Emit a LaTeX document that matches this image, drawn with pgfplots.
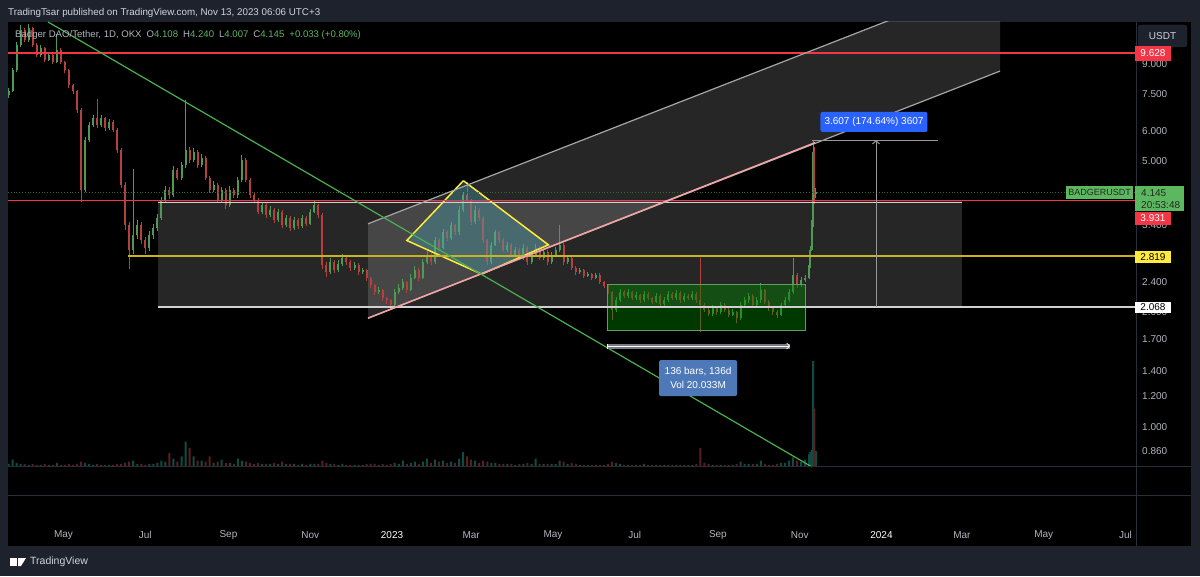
\documentclass[border=0pt]{standalone}
\usepackage{pgfplots}
\pgfplotsset{compat=1.18}
\usepackage{pgfplotstable}
\usepackage{fontspec}
\setmainfont{Liberation Sans}
\usetikzlibrary{arrows.meta}
\definecolor{frame}{HTML}{1E222D}
\definecolor{sep}{HTML}{2A2E39}
\definecolor{tvgray}{HTML}{B2B5BE}
\definecolor{tvtext}{HTML}{D1D4DC}
\definecolor{cgreen}{HTML}{4E9A52}
\definecolor{cred}{HTML}{B5413F}
\definecolor{vgreen}{HTML}{0E4D45}
\definecolor{vred}{HTML}{5A1F1F}
\definecolor{redline}{HTML}{F23645}
\definecolor{ylab}{HTML}{FFEB3B}
\definecolor{wline}{HTML}{D0D0D0}
\definecolor{pinkl}{HTML}{F5A3A3}
\definecolor{trend}{HTML}{4CAF50}
\definecolor{labgreen}{HTML}{5CB85F}
\definecolor{blueA}{HTML}{2962FF}
\definecolor{blueB}{HTML}{4E79B8}
\definecolor{valgreen}{HTML}{5FB563}
\definecolor{rangegray}{HTML}{787B86}
\definecolor{diamfill}{HTML}{4FB3C4}

\pgfplotstableread{
d o h l c v
-286 7.46 7.80 7.35 7.64 3
-283 7.64 8.80 7.60 8.68 7
-280 8.68 10.30 8.60 10.10 4
-277 10.10 11.40 10.00 11.07 3
-274 11.07 11.20 10.30 10.42 3
-271 10.42 11.50 10.30 11.20 2
-268 11.20 11.30 10.00 10.10 3
-265 10.10 10.20 9.40 9.51 2
-262 9.51 10.10 9.40 9.92 2
-259 9.92 10.00 9.10 9.23 3
-256 9.23 9.65 9.15 9.51 2
-253 9.51 9.60 9.00 9.12 2
-250 9.12 10.80 9.05 9.80 4
-247 9.80 9.90 9.00 9.12 2
-244 9.12 9.20 8.55 8.68 2
-241 8.68 8.75 7.80 7.93 3
-238 7.93 8.00 7.50 7.64 2
-235 7.64 7.70 6.70 6.81 3
-232 6.81 6.90 3.90 4.20 5
-229 4.20 5.80 4.15 5.68 4
-226 5.68 6.35 5.60 6.22 3
-223 6.22 6.60 6.15 6.49 2
-220 6.49 7.28 6.10 6.22 3
-217 6.22 6.60 6.15 6.49 2
-214 6.49 6.55 6.00 6.11 2
-211 6.11 6.45 6.05 6.33 2
-208 6.33 6.40 5.95 6.04 2
-205 6.04 6.10 5.25 5.35 3
-202 5.35 5.40 4.25 4.33 3
-199 4.33 4.40 3.30 3.39 4
-196 3.39 3.45 2.60 2.92 5
-193 2.92 4.77 2.85 3.19 6
-190 3.19 3.50 3.12 3.39 3
-187 3.39 3.45 3.02 3.10 3
-184 3.10 3.15 2.85 2.96 2
-181 2.96 3.28 2.90 3.19 3
-178 3.19 3.42 3.12 3.33 3
-175 3.33 3.62 3.28 3.54 4
-172 3.54 4.02 3.50 3.95 6
-169 3.95 4.30 3.90 4.20 5
-166 4.20 4.28 3.98 4.07 13
-163 4.07 4.85 4.02 4.74 8
-160 4.74 4.80 4.45 4.52 5
-157 4.52 4.98 4.45 4.88 10
-154 4.88 7.24 4.80 5.35 24
-151 5.35 5.45 4.95 5.03 18
-148 5.03 5.40 4.98 5.29 10
-145 5.29 5.35 4.80 4.88 6
-142 4.88 5.22 4.82 5.10 6
-139 5.10 5.15 4.45 4.52 5
-136 4.52 4.58 4.12 4.20 10
-133 4.20 4.42 4.15 4.33 4
-130 4.33 4.38 3.88 3.95 5
-127 3.95 4.28 3.90 4.20 7
-124 4.20 4.25 3.75 3.83 4
-121 3.83 4.30 3.78 4.20 4
-118 4.20 4.25 4.00 4.07 3
-115 4.07 4.55 4.00 4.46 8
-112 4.46 5.19 4.40 5.03 6
-109 5.03 5.10 4.40 4.46 5
-106 4.46 4.52 4.00 4.07 4
-103 4.07 4.12 3.88 3.95 3
-100 3.95 4.00 3.62 3.68 4
-97 3.68 3.90 3.62 3.83 3
-94 3.83 3.88 3.55 3.61 3
-91 3.61 3.80 3.56 3.72 3
-88 3.72 3.76 3.44 3.50 4
-85 3.50 3.75 3.45 3.68 3
-82 3.68 3.72 3.33 3.39 5
-79 3.39 3.60 3.35 3.54 3
-76 3.54 3.58 3.28 3.33 3
-73 3.33 3.56 3.30 3.50 3
-70 3.50 3.54 3.32 3.37 2
-67 3.37 3.60 3.34 3.54 3
-64 3.54 3.58 3.37 3.42 2
-61 3.42 3.75 3.40 3.68 3
-58 3.68 3.95 3.65 3.83 3
-55 3.83 3.86 3.55 3.61 3
-52 3.61 3.65 2.60 2.66 6
-49 2.66 2.72 2.48 2.55 4
-46 2.55 2.78 2.52 2.71 3
-43 2.71 2.74 2.53 2.58 3
-40 2.58 2.75 2.55 2.68 2
-37 2.68 2.84 2.65 2.78 3
-34 2.78 2.80 2.66 2.71 2
-31 2.71 2.74 2.57 2.61 2
-28 2.61 2.71 2.58 2.66 2
-25 2.66 2.69 2.51 2.55 2
-22 2.55 2.62 2.52 2.58 2
-19 2.58 2.60 2.42 2.46 3
-16 2.46 2.48 2.32 2.36 3
-13 2.36 2.38 2.22 2.26 3
-10 2.26 2.33 2.23 2.29 2
-7 2.29 2.31 2.14 2.18 3
-4 2.18 2.20 2.10 2.15 2
-1 2.15 2.17 2.03 2.09 3
2 2.09 2.31 2.06 2.26 4
5 2.26 2.38 2.23 2.32 3
8 2.32 2.45 2.29 2.40 6
11 2.40 2.42 2.25 2.29 3
14 2.29 2.52 2.27 2.46 4
17 2.46 2.64 2.44 2.58 5
20 2.58 2.61 2.42 2.46 3
23 2.46 2.76 2.44 2.71 5
26 2.71 2.90 2.68 2.83 8
29 2.83 2.86 2.66 2.71 4
32 2.71 3.16 2.68 3.10 7
35 3.10 3.13 2.91 2.96 5
38 2.96 3.31 2.93 3.25 6
41 3.25 3.30 3.08 3.14 4
44 3.14 3.46 3.10 3.39 5
47 3.39 3.42 3.20 3.25 4
50 3.25 3.80 3.20 3.72 8
53 3.72 4.15 3.68 4.07 14
56 4.07 4.40 3.88 3.95 10
59 3.95 3.98 3.40 3.46 7
62 3.46 3.80 3.42 3.72 6
65 3.72 3.76 3.48 3.54 4
68 3.54 3.58 3.04 3.10 6
71 3.10 3.12 2.66 2.71 5
74 2.71 3.06 2.68 3.01 4
77 3.01 3.30 2.98 3.25 4
80 3.25 3.28 3.05 3.10 3
83 3.10 3.14 2.88 2.92 3
86 2.92 3.06 2.89 3.01 3
89 3.01 3.04 2.79 2.83 3
92 2.83 2.97 2.80 2.92 2
95 2.92 2.95 2.74 2.78 3
98 2.78 3.02 2.75 2.96 3
101 2.96 2.99 2.67 2.71 4
104 2.71 2.88 2.68 2.83 3
107 2.83 3.02 2.80 2.96 8
110 2.96 2.99 2.74 2.78 3
113 2.78 2.94 2.75 2.89 3
116 2.89 2.92 2.67 2.71 3
119 2.71 2.88 2.68 2.83 3
122 2.83 2.97 2.80 2.92 3
125 2.92 3.39 2.89 3.01 6
128 3.01 3.04 2.67 2.71 5
131 2.71 2.82 2.68 2.78 3
134 2.78 2.80 2.58 2.61 4
137 2.61 2.64 2.51 2.55 3
140 2.55 2.62 2.52 2.58 2
143 2.58 2.60 2.46 2.49 2
146 2.49 2.56 2.47 2.52 2
149 2.52 2.54 2.43 2.46 2
152 2.46 2.54 2.44 2.51 2
155 2.51 2.53 2.37 2.40 2
158 2.40 2.42 2.32 2.35 2
161 2.35 2.37 2.23 2.26 3
164 2.26 2.28 1.91 2.03 5
167 2.03 2.19 2.00 2.15 4
170 2.15 2.30 2.13 2.26 3
173 2.26 2.29 2.18 2.21 2
176 2.21 2.30 2.18 2.26 2
179 2.26 2.28 2.15 2.18 2
182 2.18 2.26 2.16 2.22 2
185 2.22 2.24 2.12 2.15 2
188 2.15 2.28 2.13 2.24 3
191 2.24 2.26 2.15 2.18 2
194 2.18 2.20 2.10 2.13 2
197 2.13 2.25 2.11 2.21 2
200 2.21 2.23 2.07 2.10 2
203 2.10 2.19 2.08 2.15 2
206 2.15 2.28 2.13 2.24 2
209 2.24 2.26 2.15 2.18 2
212 2.18 2.29 2.16 2.25 2
215 2.25 2.27 2.12 2.15 2
218 2.15 2.25 2.13 2.21 2
221 2.21 2.24 2.15 2.18 2
224 2.18 2.28 2.16 2.24 2
227 2.24 2.26 2.12 2.15 3
230 2.15 2.78 1.77 2.09 18
233 2.09 2.12 2.00 2.03 4
236 2.03 2.06 1.95 1.98 3
239 1.98 2.09 1.96 2.05 2
242 2.05 2.07 1.97 2.00 2
245 2.00 2.13 1.98 2.09 2
248 2.09 2.11 2.00 2.03 2
251 2.03 2.05 1.94 1.97 2
254 1.97 2.04 1.95 2.00 2
257 2.00 2.02 1.88 1.93 3
260 1.93 2.13 1.91 2.09 5
263 2.09 2.19 2.06 2.15 3
266 2.15 2.25 2.12 2.21 3
269 2.21 2.23 2.06 2.09 3
272 2.09 2.19 2.06 2.15 3
275 2.15 2.39 2.12 2.29 6
278 2.29 2.31 2.10 2.13 3
281 2.13 2.15 2.02 2.05 2
284 2.05 2.08 1.97 2.00 2
287 2.00 2.03 1.93 1.97 3
290 1.97 2.12 1.95 2.09 4
293 2.09 2.19 2.06 2.15 4
296 2.15 2.30 2.13 2.26 6
299 2.26 2.78 2.24 2.51 9
302 2.51 2.54 2.32 2.36 6
305 2.36 2.47 2.33 2.43 5
308 2.43 2.50 2.40 2.46 7
311 2.46 2.72 2.44 2.66 12
312 2.66 2.98 2.62 2.92 14
313 2.92 3.50 2.90 3.39 16
314 3.39 5.675 3.35 5.30 100
315 5.30 5.45 3.85 4.108 55
316 4.108 4.240 4.007 4.145 15
}\candles

\pgfplotsset{
  upc/.style={restrict expr to domain={\thisrow{c}-\thisrow{o}}{0:100}},
  dnc/.style={restrict expr to domain={\thisrow{c}-\thisrow{o}}{-100:-0.00001}},
  frame/.style={at={(8pt,109pt)}, anchor=south west, width=1128pt, height=445pt,
    scale only axis, xmin=-286.4, xmax=554.8},
}

\begin{document}
\begin{tikzpicture}[x=1pt,y=1pt]
\path[use as bounding box] (0,0) rectangle (1200,576);
\fill[frame] (0,0) rectangle (1200,576);
\fill[black] (8,30) rectangle (1191,554);

% volume
\begin{axis}[frame, hide axis, ymin=0, ymax=420]
\addplot[ybar, bar width=2pt, bar shift=0pt, fill=vgreen, draw=none, upc] table[x=d,y=v]{\candles};
\addplot[ybar, bar width=2pt, bar shift=0pt, fill=vred, draw=none, dnc] table[x=d,y=v]{\candles};
\end{axis}

% price
\begin{axis}[frame, ymode=log, ymin=0.783, ymax=11.62,
  axis line style={draw=none}, major tick length=0pt, minor tick num=0,
  /pgf/number format/assume math mode=true,
  ytick={0.86,1,1.2,1.4,1.7,2,2.4,3.4,5,6,7.5,9},
  yticklabels={0.860,1.000,1.200,1.400,1.700,2.000,2.400,3.400,5.000,6.000,7.500,9.000},
  yticklabel pos=right,
  yticklabel style={anchor=west, inner sep=0pt, xshift=6pt, font=\fontsize{10}{12}\selectfont, text=tvgray},
  xtick={-245,-184,-122,-61,0,59,120,181,243,304,365,425,486,547},
  xticklabels={May,Jul,Sep,Nov,{\color{white}2023},Mar,May,Jul,Sep,Nov,{\color{white}2024},Mar,May,Jul},
  xticklabel style={anchor=center, inner sep=0pt, yshift=-68pt, font=\fontsize{10}{12}\selectfont, text=tvgray},
  clip=true]
% background drawings
\addplot[fill=white, fill opacity=0.15, draw=none] coordinates {(-174.5,2.068)(425.1,2.068)(425.1,3.931)(-174.5,3.931)};
\addplot[fill=white, fill opacity=0.15, draw=none] coordinates {(-17.9,3.42)(453.4,15.26)(453.4,8.63)(-17.9,1.93)};
% wicks
\addplot[draw=none, mark=none, upc, error bars/.cd, y dir=both, y explicit, error mark=none,
  error bar style={draw=cgreen, line width=0.8pt}]
  table[x=d, y=c, y error plus expr=\thisrow{h}-\thisrow{c}, y error minus expr=\thisrow{c}-\thisrow{l}]{\candles};
\addplot[draw=none, mark=none, dnc, error bars/.cd, y dir=both, y explicit, error mark=none,
  error bar style={draw=cred, line width=0.8pt}]
  table[x=d, y=c, y error plus expr=\thisrow{h}-\thisrow{c}, y error minus expr=\thisrow{c}-\thisrow{l}]{\candles};
% bodies
\addplot[draw=none, mark=none, upc, error bars/.cd, y dir=minus, y explicit, error mark=none,
  error bar style={draw=cgreen, line width=2pt}]
  table[x=d, y=c, y error minus expr=\thisrow{c}-\thisrow{o}]{\candles};
\addplot[draw=none, mark=none, dnc, error bars/.cd, y dir=plus, y explicit, error mark=none,
  error bar style={draw=cred, line width=2pt}]
  table[x=d, y=c, y error plus expr=\thisrow{o}-\thisrow{c}]{\candles};
% overlay shapes
\addplot[fill=green!50!black, fill opacity=0.45, draw=gray!75!green, line width=1pt] coordinates {(160.6,1.79)(308.5,1.79)(308.5,2.36)(160.6,2.36)(160.6,1.79)};
\addplot[fill=diamfill, fill opacity=0.32, draw=ylab, line width=1.5pt] coordinates {(53.2,4.44)(116.6,3.01)(66.9,2.52)(11.0,3.09)(53.2,4.44)};
% horizontal levels
\addplot[draw=redline, line width=1.3pt] coordinates {(-286.4,9.628)(554.8,9.628)};
\addplot[draw=trend!60!black, dotted, line width=0.8pt] coordinates {(-286.4,4.145)(554.8,4.145)};
\addplot[draw=wline, line width=1.5pt] coordinates {(-174.5,3.89)(425.1,3.89)};
\addplot[draw=redline, line width=1.6pt] coordinates {(-286.4,3.935)(554.8,3.935)};
\addplot[draw={rgb,255:red,200;green,180;blue,30}, line width=1.8pt] coordinates {(-196.9,2.819)(554.8,2.819)};
\addplot[draw=wline, line width=1.5pt] coordinates {(-174.5,2.068)(554.8,2.068)};
% channel and trend lines
\addplot[draw=gray!70!white, line width=1.2pt] coordinates {(-17.9,3.42)(453.4,15.26)};
\addplot[draw=gray!70!white, line width=1.2pt] coordinates {(-17.9,1.93)(453.4,8.63)};
\addplot[draw=pinkl, line width=1.5pt] coordinates {(-17.9,1.93)(315.4,5.59)};
\addplot[draw=trend, line width=1.2pt] coordinates {(-256.5,11.62)(313.2,0.783)};
% date range
\addplot[draw=rangegray, line width=5pt] coordinates {(160.3,1.63)(296.8,1.63)};
\addplot[draw=white, line width=0.7pt, -{Straight Barb[length=3pt,width=6pt]}] coordinates {(160.3,1.63)(296.8,1.63)};
\addplot[draw=white, line width=0.8pt] coordinates {(160.3,1.605)(160.3,1.655)};
% price range
\addplot[draw=gray!80!white, line width=1pt] coordinates {(313.2,5.675)(407.2,5.675)};
\addplot[draw=gray!80!white, line width=1pt, -{Straight Barb[length=3pt,width=7pt]}] coordinates {(360.9,2.068)(360.9,5.675)};
\node[fill=blueB, rounded corners=2pt, text=white, align=center, font=\fontsize{10}{14}\selectfont, minimum width=78pt, minimum height=36pt, inner sep=1pt] at (axis cs:228.2,1.342) {136 bars, 136d\\Vol 20.033M};
\node[fill=blueA, rounded corners=2pt, text=white, font=\fontsize{10}{12}\selectfont, minimum width=107pt, minimum height=20pt, inner sep=1pt] at (axis cs:359.4,6.34) {3.607 (174.64\%) 3607};
\end{axis}

% separators
\draw[sep, line width=1pt] (8,109) -- (1191,109);
\draw[sep, line width=1pt] (8,80) -- (1191,80);
\draw[sep, line width=1pt] (1136,30) -- (1136,554);

% header texts
\node[anchor=west, text=tvtext, font=\fontsize{9.8}{12}\selectfont, inner sep=0pt] at (8,563) {TradingTsar published on TradingView.com, Nov 13, 2023 06:06 UTC+3};
\node[anchor=west, text=tvgray, font=\fontsize{9.6}{12}\selectfont, inner sep=0pt] at (15,541) {Badger DAO/Tether, 1D, OKX\hspace{5pt}O\textcolor{valgreen}{4.108}\hspace{5pt}H\textcolor{valgreen}{4.240}\hspace{5pt}L\textcolor{valgreen}{4.007}\hspace{5pt}C\textcolor{valgreen}{4.145}\hspace{5pt}\textcolor{valgreen}{+0.033 (+0.80\%)}};

% price scale labels
\draw[fill=frame, draw=sep, rounded corners=3pt] (1138,529) rectangle (1187,551);
\node[text=tvtext, font=\fontsize{10}{12}\selectfont] at (1162.5,540) {USDT};
\fill[redline] (1135,515) rectangle (1171,530);
\node[text=white, font=\fontsize{10}{12}\selectfont] at (1153,522.5) {9.628};
\fill[labgreen] (1066,377) rectangle (1133,390);
\node[text=black!85, font=\fontsize{9}{11}\selectfont] at (1099.5,383.5) {BADGERUSDT};
\fill[labgreen] (1135,365) rectangle (1184,390);
\node[text=black!85, font=\fontsize{10}{12}\selectfont, anchor=west, inner sep=0pt] at (1141,383) {4.145};
\node[text=black!85, font=\fontsize{10}{12}\selectfont, anchor=west, inner sep=0pt] at (1141,371) {20:53:48};
\fill[redline] (1135,351) rectangle (1171,364);
\node[text=white, font=\fontsize{10}{12}\selectfont] at (1153,357.5) {3.931};
\fill[ylab] (1135,313) rectangle (1171,325);
\node[text=black, font=\fontsize{10}{12}\selectfont] at (1153,319) {2.819};
\fill[white] (1135,263) rectangle (1171,274);
\node[text=black, font=\fontsize{10}{12}\selectfont] at (1153,268.5) {2.068};

% footer
\fill[white] (10,10) rectangle (17,18);
\fill[white] (18,18) -- (26,18) -- (21,10) -- (18,10) -- cycle;
\node[anchor=west, text=tvtext, font=\fontsize{10.5}{12}\selectfont, inner sep=0pt] at (30,14) {TradingView};
\end{tikzpicture}
\end{document}
